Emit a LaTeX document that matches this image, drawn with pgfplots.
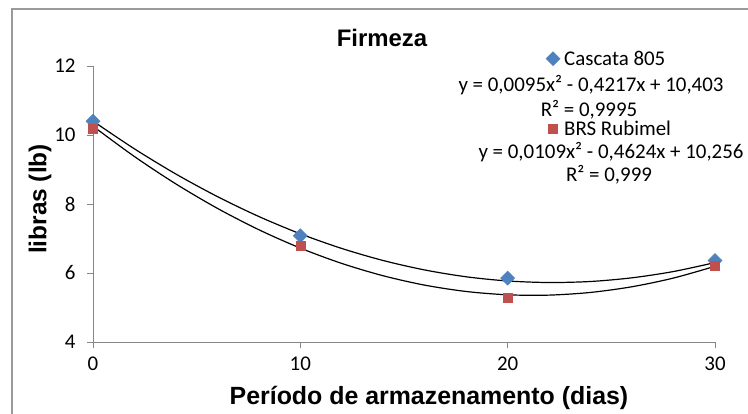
\documentclass[border=0pt]{standalone}
\usepackage{fontspec}
\setmainfont{Carlito}
\newfontfamily\arial{Liberation Sans}
\usepackage{pgfplots}
\pgfplotsset{compat=1.18}
\definecolor{cblue}{HTML}{4F81BD}
\definecolor{cred}{HTML}{C0504D}
\definecolor{axgray}{HTML}{868686}
\definecolor{framegray}{HTML}{9A9A9A}
\begin{document}
\begin{tikzpicture}
\useasboundingbox (0,0) rectangle (748bp,414bp);
\draw[color=framegray, line width=1.3bp] (12bp,-5bp) -- (12bp,405bp) -- (760bp,405bp);
\begin{axis}[
  at={(93bp,72bp)}, anchor=south west,
  scale only axis, width=622bp, height=276bp,
  xmin=0, xmax=30, ymin=4, ymax=12,
  xtick={0,10,20,30}, ytick={4,6,8,10,12},
  axis x line*=bottom, axis y line*=left,
  axis line style={axgray, line width=0.9bp, -},
  tick style={axgray, line width=0.9bp},
  tick align=outside, major tick length=6bp,
  /pgf/number format/assume math mode=true,
  tick label style={font=\fontsize{21}{21}\selectfont, black},
  xticklabel style={yshift=-5bp},
  yticklabel style={xshift=-8bp},
  clip=false,
  legend style={at={(0.728,1.063)}, anchor=north west, draw=none, fill=none,
    font=\fontsize{21}{23}\selectfont, row sep=50bp, inner sep=0pt,
    legend cell align=left},
  /tikz/every odd column/.append style={column sep=2bp},
  legend image code/.code={\draw[#1] plot coordinates {(0.2cm,0cm)};},
]
\addplot[only marks, mark=square*, mark size=5bp, mark options={rotate=45, fill=cblue, draw=cblue}]
  coordinates {(0,10.40) (10,7.08) (20,5.85) (30,6.36)};
\addlegendentry{Cascata 805}
\addplot[only marks, mark=square*, mark size=4.4bp, mark options={fill=cred, draw=cred}]
  coordinates {(0,10.18) (10,6.78) (20,5.28) (30,6.21)};
\addlegendentry{BRS Rubimel}
\addplot[forget plot, black, line width=1.2bp, smooth] coordinates {
 (0,10.403) (2,9.598) (4,8.868) (6,8.215) (8,7.637) (10,7.136) (12,6.711) (14,6.361)
 (16,6.088) (18,5.890) (20,5.769) (22,5.724) (24,5.754) (26,5.861) (28,6.043) (30,6.302)};
\addplot[forget plot, black, line width=1.2bp, smooth] coordinates {
 (0,10.256) (2,9.375) (4,8.581) (6,7.874) (8,7.254) (10,6.722) (12,6.277) (14,5.919)
 (16,5.648) (18,5.464) (20,5.368) (22,5.359) (24,5.437) (26,5.602) (28,5.854) (30,6.194)};
\end{axis}
\node[font=\arial\bfseries\fontsize{24}{24}\selectfont] at (382bp,376bp) {Firmeza};
\node[font=\arial\bfseries\fontsize{25}{25}\selectfont] at (429bp,16bp) {Período de armazenamento (dias)};
\node[font=\arial\bfseries\fontsize{24.5}{24.5}\selectfont, rotate=90] at (40bp,215bp) {libras (lb)};
\node[font=\fontsize{21}{21}\selectfont] at (591bp,329bp) {y = 0,0095x² - 0,4217x + 10,403};
\node[font=\fontsize{21}{21}\selectfont] at (589bp,304bp) {R² = 0,9995};
\node[font=\fontsize{21}{21}\selectfont] at (611bp,262bp) {y = 0,0109x² - 0,4624x + 10,256};
\node[font=\fontsize{21}{21}\selectfont] at (609bp,239bp) {R² = 0,999};
\end{tikzpicture}
\end{document}
